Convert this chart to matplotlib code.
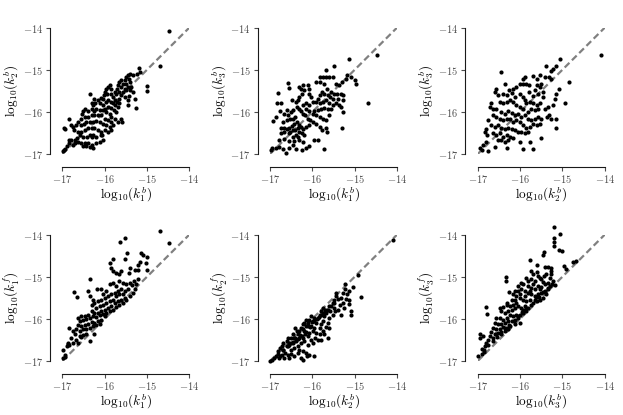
import numpy as np
import matplotlib
matplotlib.use("Agg")
import matplotlib.pyplot as plt

plt.rcParams["font.family"] = "serif"
plt.rcParams["font.serif"] = ["cmr10"]
plt.rcParams["mathtext.fontset"] = "cm"

# (x, y) pairs, log10 units
k1b_k2b = [
    (-14.48, -14.07), (-14.69, -14.91), (-14.99, -15.39), (-14.99, -15.50), (-15.20, -14.96),
    (-15.16, -15.06), (-15.24, -15.09), (-15.33, -15.13), (-15.39, -15.11), (-15.45, -15.13),
    (-15.49, -15.17), (-15.43, -15.21), (-15.53, -15.25), (-15.61, -15.25), (-15.65, -15.29),
    (-15.57, -15.33), (-15.49, -15.33), (-15.41, -15.29), (-15.37, -15.41), (-15.45, -15.41),
    (-15.53, -15.45), (-15.61, -15.41), (-15.69, -15.37), (-15.70, -15.45), (-15.65, -15.53),
    (-15.57, -15.53), (-15.49, -15.49), (-15.41, -15.49), (-15.33, -15.53), (-15.29, -15.69),
    (-15.27, -15.91), (-15.43, -15.62), (-15.46, -15.84), (-15.45, -15.72), (-15.53, -15.65),
    (-15.61, -15.61), (-15.65, -15.69), (-15.72, -15.57), (-15.76, -15.53), (-15.84, -15.45),
    (-15.88, -15.35), (-15.92, -15.41), (-15.96, -15.45), (-16.00, -15.53), (-16.02, -15.61),
    (-15.94, -15.57), (-15.84, -15.57), (-15.80, -15.65), (-15.76, -15.72), (-15.70, -15.76),
    (-15.65, -15.80), (-15.69, -15.88), (-15.75, -15.84), (-15.80, -15.80), (-15.84, -15.76),
    (-15.92, -15.72), (-15.96, -15.76), (-16.04, -15.69), (-16.09, -15.67), (-16.16, -15.72),
    (-16.22, -15.80), (-16.28, -15.84), (-16.31, -15.80), (-16.35, -15.57), (-16.24, -15.69),
    (-16.12, -15.80), (-16.04, -15.84), (-16.00, -15.92), (-15.92, -15.88), (-15.84, -15.91),
    (-15.78, -15.96), (-15.72, -16.00), (-15.61, -16.16), (-15.59, -16.24), (-15.69, -16.24),
    (-15.76, -16.16), (-15.84, -16.12), (-15.88, -16.04), (-15.96, -16.00), (-16.04, -15.96),
    (-16.12, -15.96), (-16.20, -15.92), (-16.25, -15.98), (-16.31, -15.94), (-16.39, -15.98),
    (-16.47, -15.94), (-16.51, -15.98), (-16.54, -16.04), (-16.57, -16.16), (-16.47, -16.12),
    (-16.39, -16.12), (-16.31, -16.08), (-16.24, -16.08), (-16.16, -16.08), (-16.08, -16.08),
    (-16.00, -16.16), (-15.92, -16.20), (-15.84, -16.24), (-15.80, -16.31), (-15.88, -16.35),
    (-15.96, -16.31), (-16.04, -16.28), (-16.12, -16.24), (-16.20, -16.22), (-16.28, -16.24),
    (-16.35, -16.24), (-16.43, -16.24), (-16.49, -16.28), (-16.55, -16.31), (-16.63, -16.24),
    (-16.67, -16.31), (-16.75, -16.35), (-16.80, -16.31), (-16.85, -16.17), (-16.94, -16.41),
    (-16.72, -16.43), (-16.63, -16.47), (-16.55, -16.47), (-16.47, -16.43), (-16.39, -16.39),
    (-16.31, -16.39), (-16.24, -16.39), (-16.16, -16.43), (-16.08, -16.47), (-16.00, -16.43),
    (-15.92, -16.47), (-15.84, -16.43), (-16.04, -16.67), (-16.12, -16.71), (-16.20, -16.59),
    (-16.28, -16.55), (-16.31, -16.59), (-16.35, -16.55), (-16.41, -16.59), (-16.51, -16.59),
    (-16.59, -16.55), (-16.65, -16.63), (-16.71, -16.67), (-16.79, -16.67), (-16.85, -16.67),
    (-16.71, -16.75), (-16.63, -16.72), (-16.55, -16.75), (-16.47, -16.75), (-16.39, -16.75),
    (-16.31, -16.79), (-16.28, -16.85), (-16.35, -16.83), (-16.43, -16.80), (-16.51, -16.80),
    (-16.88, -16.80), (-16.93, -16.87), (-16.98, -16.93), (-16.96, -16.91), (-16.75, -16.79),
    (-16.83, -16.75), (-16.20, -16.75), (-16.09, -16.55), (-16.06, -16.55), (-16.95, -16.39),
]

k1b_k3b = [
    (-14.47, -14.65), (-15.14, -14.74), (-14.69, -15.79), (-14.98, -15.33), (-15.00, -15.25),
    (-15.09, -15.17), (-15.19, -15.13), (-15.20, -15.23), (-15.30, -15.28), (-15.36, -15.37),
    (-15.44, -15.33), (-15.48, -14.90), (-15.68, -15.00), (-15.52, -15.17), (-15.60, -15.17),
    (-15.68, -15.17), (-15.76, -15.17), (-15.83, -15.17), (-15.91, -15.28), (-15.81, -15.29),
    (-15.72, -15.33), (-15.65, -15.45), (-15.57, -15.53), (-15.49, -15.57), (-15.41, -15.57),
    (-15.33, -15.57), (-15.27, -15.61), (-15.28, -15.72), (-15.40, -15.69), (-15.44, -15.80),
    (-15.38, -15.84), (-15.33, -15.88), (-15.28, -16.00), (-15.30, -16.38), (-15.52, -15.69),
    (-15.58, -15.65), (-15.64, -15.61), (-15.72, -15.57), (-15.78, -15.53), (-15.83, -15.61),
    (-15.87, -15.69), (-15.91, -15.76), (-15.83, -15.80), (-15.76, -15.76), (-15.68, -15.72),
    (-15.60, -15.80), (-15.52, -15.84), (-15.56, -15.92), (-15.64, -15.94), (-15.72, -15.91),
    (-15.80, -15.94), (-15.87, -15.96), (-15.95, -15.98), (-15.99, -16.04), (-15.91, -16.08),
    (-15.83, -16.12), (-15.76, -16.16), (-15.68, -16.20), (-15.60, -16.08), (-15.68, -16.39),
    (-15.66, -16.47), (-15.77, -16.43), (-15.83, -16.35), (-15.91, -16.28), (-15.99, -16.24),
    (-16.06, -16.20), (-16.11, -16.16), (-16.17, -16.08), (-16.21, -16.04), (-16.27, -15.98),
    (-16.32, -15.94), (-16.37, -15.88), (-16.39, -15.76), (-16.35, -15.72), (-16.31, -15.65),
    (-16.24, -15.57), (-16.19, -15.49), (-16.27, -15.45), (-16.31, -15.41), (-16.21, -15.37),
    (-16.11, -15.37), (-16.07, -15.45), (-16.09, -15.57), (-16.03, -15.65), (-15.99, -15.76),
    (-16.07, -15.84), (-16.15, -15.80), (-16.23, -15.84), (-16.15, -15.92), (-16.09, -15.98),
    (-16.54, -15.43), (-16.48, -15.72), (-16.80, -15.54), (-16.58, -15.31), (-16.84, -15.79),
    (-16.73, -15.80), (-16.94, -16.22), (-16.86, -16.12), (-16.76, -15.98), (-16.66, -16.04),
    (-16.61, -15.96), (-16.57, -16.08), (-16.50, -16.00), (-16.45, -15.96), (-16.40, -16.12),
    (-16.46, -16.16), (-16.52, -16.17), (-16.61, -16.20), (-16.69, -16.24), (-16.74, -16.39),
    (-16.66, -16.38), (-16.61, -16.41), (-16.54, -16.38), (-16.48, -16.33), (-16.43, -16.28),
    (-16.37, -16.24), (-16.32, -16.31), (-16.27, -16.35), (-16.21, -16.41), (-16.15, -16.35),
    (-16.09, -16.31), (-16.35, -16.39), (-16.40, -16.43), (-16.46, -16.43), (-16.52, -16.47),
    (-16.56, -16.51), (-16.66, -16.47), (-16.74, -16.49), (-16.31, -16.47), (-16.25, -16.51),
    (-16.19, -16.55), (-16.35, -16.59), (-16.39, -16.55), (-16.45, -16.59), (-16.78, -16.67),
    (-16.66, -16.65), (-16.54, -16.69), (-16.43, -16.69), (-16.31, -16.67), (-16.23, -16.71),
    (-15.95, -16.67), (-15.87, -16.67), (-16.08, -16.80), (-16.15, -16.85), (-16.24, -16.91),
    (-16.39, -16.87), (-16.45, -16.79), (-16.56, -16.85), (-16.69, -16.89), (-16.87, -16.85),
    (-16.95, -16.85), (-16.98, -16.91), (-15.72, -16.87), (-16.63, -16.97), (-16.79, -16.84),
]

k2b_k3b = [
    (-14.08, -14.66), (-15.06, -14.74), (-15.16, -14.90), (-15.22, -14.98), (-15.38, -14.92),
    (-15.26, -15.04), (-14.85, -15.28), (-14.94, -15.79), (-15.08, -15.45), (-15.14, -15.57),
    (-15.18, -15.69), (-15.22, -15.84), (-15.14, -16.16), (-15.28, -16.16), (-15.36, -16.12),
    (-15.42, -15.94), (-15.34, -15.88), (-15.26, -15.21), (-15.31, -15.17), (-15.42, -15.16),
    (-15.54, -15.13), (-15.61, -15.23), (-15.69, -15.15), (-15.89, -15.17), (-15.94, -15.21),
    (-16.46, -15.06), (-15.50, -15.33), (-15.54, -15.41), (-15.61, -15.37), (-15.65, -15.49),
    (-15.57, -15.57), (-15.46, -15.65), (-15.46, -15.53), (-15.69, -15.62), (-15.80, -15.53),
    (-15.79, -15.37), (-15.85, -15.33), (-15.93, -15.33), (-16.01, -15.33), (-16.09, -15.41),
    (-16.17, -15.45), (-16.20, -15.54), (-16.26, -15.49), (-16.36, -15.33), (-16.56, -15.45),
    (-16.60, -15.53), (-16.52, -15.61), (-16.40, -15.57), (-16.32, -15.61), (-16.13, -15.65),
    (-16.01, -15.57), (-15.93, -15.65), (-15.89, -15.72), (-15.85, -15.80), (-15.77, -15.76),
    (-15.69, -15.80), (-15.61, -15.84), (-15.54, -15.80), (-15.57, -15.92), (-15.65, -15.96),
    (-15.73, -15.94), (-15.81, -16.00), (-15.93, -15.92), (-16.01, -15.88), (-16.09, -15.84),
    (-16.17, -15.76), (-16.24, -15.72), (-16.32, -15.76), (-16.40, -15.80), (-16.48, -15.76),
    (-16.68, -15.80), (-16.72, -15.88), (-16.65, -15.92), (-16.57, -15.94), (-16.44, -16.00),
    (-16.36, -16.04), (-16.28, -15.98), (-16.20, -16.02), (-16.13, -16.08), (-16.05, -16.04),
    (-15.97, -16.12), (-15.89, -16.08), (-15.81, -16.16), (-15.73, -16.20), (-15.65, -16.16),
    (-15.57, -16.12), (-15.50, -16.16), (-15.54, -16.28), (-15.61, -16.31), (-15.69, -16.28),
    (-15.77, -16.35), (-15.85, -16.39), (-15.93, -16.31), (-16.01, -16.24), (-16.09, -16.20),
    (-16.17, -16.24), (-16.24, -16.16), (-16.32, -16.17), (-16.40, -16.20), (-16.48, -16.16),
    (-16.57, -16.12), (-16.65, -16.08), (-16.76, -16.20), (-16.80, -16.41), (-16.82, -16.47),
    (-16.79, -16.55), (-16.68, -16.31), (-16.60, -16.35), (-16.52, -16.31), (-16.44, -16.38),
    (-16.36, -16.41), (-16.28, -16.38), (-16.20, -16.41), (-16.13, -16.43), (-16.05, -16.47),
    (-15.97, -16.47), (-15.89, -16.51), (-15.81, -16.47), (-16.65, -16.51), (-16.57, -16.55),
    (-16.48, -16.51), (-16.40, -16.59), (-16.32, -16.55), (-16.24, -16.59), (-16.17, -16.63),
    (-16.28, -16.67), (-16.36, -16.71), (-16.44, -16.67), (-16.52, -16.67), (-16.01, -16.71),
    (-15.77, -16.72), (-15.93, -16.87), (-15.69, -16.87), (-16.32, -16.85), (-16.80, -16.71),
    (-16.95, -16.85), (-16.87, -16.79), (-16.91, -16.91), (-16.76, -16.93), (-16.60, -16.83),
    (-15.50, -16.63), (-15.31, -16.08), (-15.16, -16.39),
]

k1b_k1f = [
    (-14.70, -13.91), (-14.49, -14.19), (-15.63, -14.17), (-15.53, -14.09), (-15.47, -14.43),
    (-15.15, -14.43), (-15.09, -14.48), (-14.99, -14.53), (-15.02, -14.67), (-15.17, -14.64),
    (-14.99, -14.83), (-15.21, -14.71), (-15.53, -14.59), (-15.80, -14.59), (-15.88, -14.67),
    (-15.84, -14.79), (-15.80, -14.87), (-15.72, -14.91), (-15.65, -14.94), (-15.61, -14.87),
    (-15.41, -14.79), (-15.43, -14.90), (-15.28, -14.83), (-15.21, -14.83), (-16.35, -15.06),
    (-16.72, -15.36), (-16.65, -15.48), (-16.39, -15.33), (-16.35, -15.46), (-16.28, -15.54),
    (-16.17, -15.30), (-16.09, -15.30), (-16.04, -15.42), (-15.96, -15.34), (-15.88, -15.18),
    (-15.80, -15.14), (-15.72, -15.22), (-15.65, -15.10), (-15.57, -15.14), (-15.49, -15.18),
    (-15.41, -15.14), (-15.35, -15.20), (-15.30, -15.10), (-15.21, -15.06), (-15.25, -15.18),
    (-15.45, -15.30), (-15.53, -15.34), (-15.61, -15.30), (-15.69, -15.34), (-15.76, -15.38),
    (-15.84, -15.42), (-15.92, -15.46), (-16.00, -15.50), (-16.08, -15.54), (-16.16, -15.58),
    (-16.24, -15.62), (-16.31, -15.66), (-16.20, -15.74), (-16.12, -15.70), (-16.04, -15.66),
    (-15.96, -15.62), (-15.88, -15.58), (-15.80, -15.54), (-15.72, -15.46), (-15.65, -15.42),
    (-15.57, -15.42), (-15.53, -15.50), (-15.61, -15.54), (-15.69, -15.58), (-15.76, -15.62),
    (-15.84, -15.70), (-15.92, -15.74), (-16.00, -15.78), (-16.08, -15.82), (-16.16, -15.86),
    (-16.24, -15.86), (-16.31, -15.82), (-16.39, -15.90), (-16.47, -15.94), (-16.55, -15.94),
    (-16.63, -15.98), (-16.59, -16.06), (-16.51, -16.02), (-16.43, -16.00), (-16.35, -15.98),
    (-16.28, -15.94), (-16.20, -15.96), (-16.12, -15.91), (-16.04, -15.88), (-15.96, -15.86),
    (-15.88, -15.82), (-15.80, -15.78), (-15.72, -15.72), (-15.65, -15.66), (-15.57, -15.62),
    (-15.49, -15.54), (-15.41, -15.46), (-15.33, -15.38), (-15.29, -15.30), (-16.00, -15.94),
    (-16.08, -16.02), (-16.16, -16.06), (-16.24, -16.10), (-16.31, -16.08), (-16.39, -16.13),
    (-16.47, -16.15), (-16.55, -16.17), (-16.63, -16.15), (-16.67, -16.25), (-16.59, -16.29),
    (-16.51, -16.25), (-16.43, -16.25), (-16.35, -16.21), (-16.28, -16.17), (-16.20, -16.15),
    (-16.12, -16.13), (-16.43, -16.37), (-16.51, -16.39), (-16.59, -16.41), (-16.83, -16.21),
    (-16.75, -16.28), (-16.71, -16.37), (-16.79, -16.45), (-16.67, -16.49), (-16.55, -16.44),
    (-16.75, -16.57), (-16.83, -16.61), (-16.88, -16.65), (-16.98, -16.73), (-16.93, -16.85),
    (-16.94, -16.91), (-16.98, -16.94), (-16.87, -16.57), (-16.35, -16.53), (-16.24, -16.37),
    (-16.63, -16.57), (-16.86, -16.59),
]

k2b_k2f = [
    (-14.10, -14.13), (-14.93, -14.96), (-14.85, -15.48), (-15.03, -15.25), (-15.14, -15.34),
    (-15.17, -15.42), (-15.13, -15.54), (-15.14, -15.64), (-15.09, -15.82), (-15.09, -15.91),
    (-15.24, -15.18), (-15.22, -15.30), (-15.28, -15.38), (-15.32, -15.50), (-15.20, -15.52),
    (-15.27, -15.62), (-15.35, -15.66), (-15.25, -15.74), (-15.32, -15.90), (-15.40, -15.78),
    (-15.43, -15.46), (-15.44, -15.38), (-15.48, -15.54), (-15.52, -15.62), (-15.57, -15.70),
    (-15.48, -15.74), (-15.46, -15.82), (-15.52, -15.90), (-15.59, -15.82), (-15.64, -15.78),
    (-15.68, -15.86), (-15.61, -15.98), (-15.64, -16.10), (-15.61, -16.21), (-15.68, -16.20),
    (-15.72, -15.94), (-15.76, -15.74), (-15.80, -15.82), (-15.83, -15.90), (-15.87, -15.98),
    (-15.76, -16.06), (-15.80, -16.13), (-15.83, -16.21), (-15.76, -16.29), (-15.72, -16.37),
    (-15.64, -16.45), (-15.80, -16.49), (-15.87, -16.49), (-15.93, -16.45), (-15.83, -16.37),
    (-15.91, -16.33), (-15.95, -16.21), (-15.91, -16.10), (-15.95, -15.98), (-15.99, -16.06),
    (-16.03, -15.94), (-16.07, -16.02), (-16.11, -16.10), (-16.03, -16.17), (-15.99, -16.29),
    (-16.07, -16.33), (-16.11, -16.41), (-16.03, -16.49), (-15.99, -16.57), (-16.11, -16.61),
    (-16.19, -16.53), (-16.23, -16.45), (-16.17, -16.36), (-16.22, -16.25), (-16.15, -16.17),
    (-16.19, -16.10), (-16.15, -16.02), (-16.23, -16.13), (-16.27, -16.21), (-16.31, -16.29),
    (-16.35, -16.37), (-16.31, -16.45), (-16.27, -16.57), (-16.35, -16.65), (-16.31, -16.73),
    (-16.23, -16.77), (-16.15, -16.81), (-16.07, -16.85), (-16.13, -16.89), (-16.27, -16.93),
    (-16.21, -16.97), (-15.95, -16.89), (-16.39, -16.53), (-16.43, -16.45), (-16.37, -16.29),
    (-16.40, -16.21), (-16.46, -16.36), (-16.50, -16.45), (-16.46, -16.57), (-16.43, -16.69),
    (-16.50, -16.73), (-16.58, -16.65), (-16.54, -16.57), (-16.61, -16.53), (-16.58, -16.45),
    (-16.69, -16.57), (-16.72, -16.65), (-16.76, -16.69), (-16.69, -16.73), (-16.65, -16.81),
    (-16.57, -16.85), (-16.50, -16.83), (-16.43, -16.89), (-16.35, -16.81), (-16.80, -16.77),
    (-16.82, -16.83), (-16.86, -16.89), (-16.90, -16.93), (-16.95, -16.97), (-17.00, -16.99),
    (-16.77, -16.89), (-16.72, -16.85), (-16.66, -16.93), (-16.54, -16.94), (-16.78, -16.93),
    (-16.70, -16.75), (-16.60, -16.65), (-16.50, -16.58), (-16.40, -16.45), (-16.30, -16.38),
    (-16.20, -16.28), (-16.10, -16.18), (-16.00, -16.08), (-15.90, -16.00), (-15.80, -15.90),
    (-15.70, -15.80), (-15.60, -15.70), (-15.50, -15.62), (-15.40, -15.52), (-16.25, -16.40),
    (-16.15, -16.30), (-16.05, -16.20), (-15.95, -16.05), (-15.85, -15.95), (-15.75, -15.85),
    (-15.65, -15.78), (-16.45, -16.55), (-16.35, -16.48), (-16.55, -16.62),
]

k3b_k3f = [
    (-15.20, -13.83), (-15.06, -13.98), (-15.20, -14.08), (-15.20, -14.18), (-15.20, -14.28),
    (-15.08, -14.36), (-15.01, -14.40), (-15.43, -14.42), (-15.45, -14.48), (-14.96, -14.74),
    (-14.92, -14.82), (-14.76, -14.66), (-14.68, -14.62), (-15.77, -14.61), (-15.42, -14.77),
    (-15.34, -14.77), (-15.26, -14.79), (-15.28, -14.87), (-15.26, -14.94), (-16.34, -15.01),
    (-16.34, -15.10), (-16.81, -15.71), (-16.78, -15.88), (-16.95, -16.36), (-16.87, -16.41),
    (-16.94, -16.45), (-16.99, -16.89),
    (-15.73, -14.87), (-15.69, -14.94), (-15.61, -14.88), (-15.57, -14.98), (-15.54, -15.02),
    (-15.50, -15.06), (-15.46, -15.12), (-15.65, -15.10), (-15.73, -15.06), (-15.81, -15.10),
    (-15.85, -15.02), (-15.93, -15.18), (-15.81, -15.22), (-15.73, -15.26), (-15.65, -15.30),
    (-15.57, -15.22), (-15.50, -15.25), (-15.42, -15.18), (-15.34, -15.14), (-15.30, -15.22),
    (-15.34, -15.30), (-15.42, -15.34), (-15.50, -15.38), (-15.57, -15.42), (-15.65, -15.46),
    (-15.73, -15.42), (-15.81, -15.38), (-15.89, -15.34), (-15.97, -15.30), (-16.05, -15.33),
    (-16.13, -15.34), (-16.17, -15.42), (-16.09, -15.46), (-16.01, -15.50), (-15.93, -15.54),
    (-15.85, -15.58), (-15.77, -15.54), (-15.69, -15.62), (-15.61, -15.58), (-15.54, -15.54),
    (-15.46, -15.50), (-15.38, -15.42), (-16.09, -15.62), (-16.17, -15.66), (-16.24, -15.70),
    (-16.32, -15.67), (-16.40, -15.72), (-16.48, -15.74), (-16.44, -15.82), (-16.36, -15.86),
    (-16.28, -15.82), (-16.20, -15.78), (-16.13, -15.74), (-16.05, -15.70), (-15.97, -15.74),
    (-15.89, -15.70), (-15.81, -15.74), (-15.85, -15.82), (-15.93, -15.86), (-16.01, -15.90),
    (-16.09, -15.91), (-16.17, -15.94), (-16.24, -15.91), (-16.32, -15.98), (-16.40, -16.02),
    (-16.48, -15.98), (-16.56, -15.99), (-16.60, -16.10), (-16.52, -16.13), (-16.44, -16.12),
    (-16.36, -16.10), (-16.28, -16.06), (-16.20, -16.04), (-16.13, -16.02), (-16.05, -15.99),
    (-16.01, -16.10), (-16.13, -16.13), (-16.24, -16.17), (-16.32, -16.21), (-16.40, -16.20),
    (-16.48, -16.23), (-16.56, -16.25), (-16.64, -16.21), (-16.68, -16.31), (-16.60, -16.36),
    (-16.52, -16.33), (-16.44, -16.31), (-16.36, -16.29), (-16.28, -16.25), (-16.72, -16.41),
    (-16.64, -16.45), (-16.76, -16.49), (-16.80, -16.57), (-16.83, -16.65), (-16.89, -16.71),
    (-16.86, -16.79), (-16.91, -16.83), (-16.56, -16.37), (-16.32, -15.62), (-16.26, -15.36),
    (-15.54, -15.30), (-15.61, -14.71), (-15.44, -14.98), (-15.38, -14.94), (-15.30, -15.02),
    (-15.22, -15.10), (-15.69, -15.18), (-15.77, -15.34), (-16.20, -15.54), (-16.13, -15.54),
    (-16.01, -15.42), (-15.89, -15.46), (-15.97, -15.14), (-16.05, -15.22),
    (-15.25, -15.16), (-15.35, -15.26), (-15.45, -15.36), (-15.55, -15.47), (-15.65, -15.56),
    (-15.75, -15.66), (-15.85, -15.75), (-15.95, -15.84), (-16.05, -15.93), (-16.15, -16.05),
    (-16.25, -16.14), (-16.35, -16.22), (-16.45, -16.35), (-16.55, -16.44), (-16.65, -16.53),
    (-16.75, -16.63), (-16.85, -16.74), (-15.18, -15.20), (-15.62, -15.48), (-15.92, -15.80),
]

panels = [k1b_k2b, k1b_k3b, k2b_k3b, k1b_k1f, k2b_k2f, k3b_k3f]
xlabels = [r"$\mathrm{log}_{10}(k_1^b)$", r"$\mathrm{log}_{10}(k_1^b)$", r"$\mathrm{log}_{10}(k_2^b)$",
           r"$\mathrm{log}_{10}(k_1^b)$", r"$\mathrm{log}_{10}(k_2^b)$", r"$\mathrm{log}_{10}(k_3^b)$"]
ylabels = [r"$\mathrm{log}_{10}(k_2^b)$", r"$\mathrm{log}_{10}(k_3^b)$", r"$\mathrm{log}_{10}(k_3^b)$",
           r"$\mathrm{log}_{10}(k_1^f)$", r"$\mathrm{log}_{10}(k_2^f)$", r"$\mathrm{log}_{10}(k_3^f)$"]
ticks = [-17, -16, -15, -14]
tick_labels = [r"$-17$", r"$-16$", r"$-15$", r"$-14$"]

fig = plt.figure(figsize=(6.23, 4.15), dpi=100)
lefts = [0.100, 0.4334, 0.7668]
bottoms = [0.6289, 0.1301]

for i, pts in enumerate(panels):
    row, col = divmod(i, 3)
    ax = fig.add_axes([lefts[col], bottoms[row], 0.2039, 0.3045])
    pts = np.array(pts)
    ax.plot([-17, -14], [-17, -14], ls="--", color="0.5", lw=1.6, dashes=(3, 1.6), zorder=1)
    ax.scatter(pts[:, 0], pts[:, 1], s=9, color="black", linewidths=0, zorder=2, clip_on=False)
    ax.set_xlim(-17, -14)
    ax.set_ylim(-17, -14)
    ax.set_xticks(ticks)
    ax.set_xticklabels(tick_labels)
    ax.set_yticks(ticks)
    ax.set_yticklabels(tick_labels)
    ax.spines["top"].set_visible(False)
    ax.spines["right"].set_visible(False)
    ax.spines["left"].set_position(("outward", 9))
    ax.spines["bottom"].set_position(("outward", 9))
    ax.tick_params(labelsize=7.5, length=3, width=0.8, pad=2, colors="0.3")
    ax.spines["left"].set_color("0.1")
    ax.spines["bottom"].set_color("0.1")
    ax.set_xlabel(xlabels[i], fontsize=9.5)
    ax.set_ylabel(ylabels[i], fontsize=9.5)
    ax.xaxis.set_label_coords(0.5, -0.255)
    ax.yaxis.set_label_coords(-0.325, 0.5)

fig.savefig("out.png", dpi=100)
